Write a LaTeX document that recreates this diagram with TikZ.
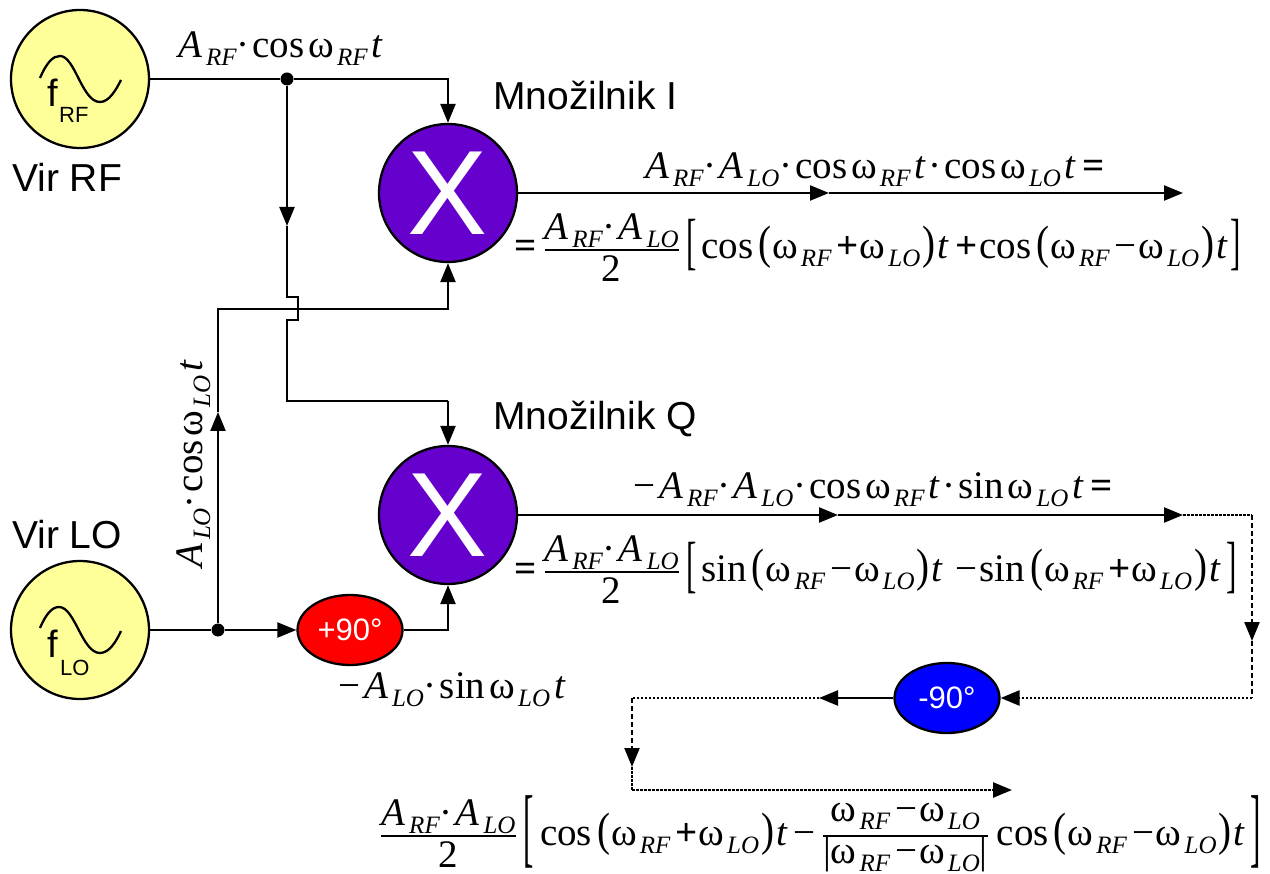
\documentclass[tikz,border=0pt]{standalone}
\usepackage{fontspec}
\usepackage{graphicx}
\usetikzlibrary{arrows.meta,shapes.geometric}
\setmainfont{Liberation Sans}
\newfontfamily\srf{Liberation Serif}
\newcommand\Sb[1]{\raisebox{-8pt}{\fontsize{25}{25}\selectfont\srf\itshape #1}}
\newcommand\Am[1]{{\itshape A}\kern4pt\Sb{#1}}
\newcommand\Om[1]{ω\kern3pt\Sb{#1}}
\newcommand\Tt{{\itshape t}}
\newcommand\Sp{\kern4pt}
\newcommand\Dt{·\kern3pt}
\newcommand\Lp{\kern5pt\scalebox{1}[1.2]{(}\kern1pt}
\newcommand\Rp{\kern2pt\scalebox{1}[1.2]{)}\kern2pt}
\newcommand\Pl{\kern5pt{\fontseries{b}\selectfont +}\kern1pt}
\newcommand\Mn{\kern5pt−\kern2pt}
\newcommand\TP{\kern7pt{\fontseries{b}\selectfont +}\kern2pt}
\newcommand\TM{\kern7pt−\kern2pt}
\newcommand\Lb[2]{\raisebox{#1}{\scalebox{0.8}[#2]{[}}}
\newcommand\Rb[2]{\raisebox{#1}{\scalebox{0.8}[#2]{]}}}
\newcommand\Eq{{\fontseries{b}\selectfont =}}
\newcommand\Fr{\raisebox{3pt}{$\displaystyle{\raisebox{0pt}[\height][4pt]{\Am{RF}\Dt\Am{LO}}\above 1.8pt\raisebox{0pt}[30pt][0pt]{2}}$}}
\tikzset{
  wire/.style={line width=2.3pt,black},
  arr/.style={wire,-{Triangle[length=19pt,width=15pt]}},
  dot/.style={line width=2.6pt,black,dash pattern=on 2.5pt off 1.5pt},
  darr/.style={dot,-{Triangle[length=19pt,width=15pt]}},
  vdash/.style={line width=2.3pt,black,dash pattern=on 5pt off 3pt},
  vdarr/.style={vdash,-{Triangle[length=19pt,width=15pt]}},
  src/.style={circle,draw=black,line width=2.3pt,fill=srcy,minimum size=138pt,inner sep=0pt},
  mix/.style={circle,draw=black,line width=2.3pt,fill=mixcol,minimum size=138pt,inner sep=0pt,text=white,font=\fontsize{120}{120}\selectfont},
  phase/.style={ellipse,draw=black,line width=2.3pt,minimum width=105pt,minimum height=70pt,inner sep=0pt,text=white,font=\fontsize{31}{31}\selectfont},
  junc/.style={circle,fill=black,minimum size=13pt,inner sep=0pt},
  frm/.style={anchor=base west,inner sep=0pt,font=\fontsize{39}{39}\selectfont\srf},
  lab/.style={anchor=base west,inner sep=0pt,font=\fontsize{39}{39}\selectfont},
  fl/.style={anchor=base west,inner sep=0pt,font=\fontsize{38}{38}\selectfont},
  fs/.style={anchor=base west,inner sep=0pt,font=\fontsize{22}{22}\selectfont},
  sine/.style={line width=2.3pt,black}
}
\definecolor{mixcol}{HTML}{6600CC}
\definecolor{srcy}{HTML}{FFFF99}
\begin{document}
\begin{tikzpicture}[x=1pt,y=-1pt]
\useasboundingbox (0,0) rectangle (1270,874);
% blocks
\node[src] (rf) at (80,79) {};
\node[src] (lo) at (80,630) {};
\node[mix] (mi) at (448,193) {X};
\node[mix] (mq) at (448,515) {X};
\node[phase,fill=red] (p90) at (350,630) {+90°};
\node[phase,fill=blue] (m90) at (947,698) {-90°};
\node[junc] (j1) at (287,79) {};
\node[junc] (j2) at (218,630) {};
% free points
\coordinate (a1) at (448,79);
\coordinate (b1) at (287,226);
\coordinate (b2) at (287,297);
\coordinate (b3) at (298,297);
\coordinate (b4) at (298,320);
\coordinate (b5) at (287,320);
\coordinate (b6) at (287,401);
\coordinate (b7) at (448,401);
\coordinate (c1) at (218,412);
\coordinate (c2) at (218,309);
\coordinate (c3) at (448,309);
\coordinate (d1) at (448,630);
\coordinate (e1) at (829,193);
\coordinate (e2) at (1183,193);
\coordinate (f1) at (838,515);
\coordinate (f2) at (1183,515);
\coordinate (f3) at (1252,515);
\coordinate (f4) at (1252,641);
\coordinate (f5) at (1252,698);
\coordinate (g1) at (819,698);
\coordinate (g2) at (632,698);
\coordinate (g3) at (632,767);
\coordinate (g4) at (632,790);
\coordinate (g5) at (1012,790);
% connectors
\draw[wire] (rf.east) -- (j1);
\draw[arr] (j1) -- (a1) -- (mi.north);
\draw[arr] (j1) -- (b1);
\draw[wire] (b1) -- (b2) -- (b3) -- (b4) -- (b5) -- (b6) -- (b7);
\draw[arr] (b7) -- (mq.north);
\draw[wire] (lo.east) -- (j2);
\draw[arr] (j2) -- (p90.west);
\draw[arr] (j2) -- (c1);
\draw[arr] (c1) -- (c2) -- (c3) -- (mi.south);
\draw[arr] (p90.east) -- (d1) -- (mq.south);
\draw[arr] (mi.east) -- (e1);
\draw[arr] (e1) -- (e2);
\draw[arr] (mq.east) -- (f1);
\draw[arr] (f1) -- (f2);
\draw[dot] (f2) -- (f3);
\draw[vdarr] (f3) -- (f4);
\draw[vdash] (f4) -- (f5);
\draw[darr] (f5) -- (m90.east);
\draw[arr] (m90.west) -- (g1);
\draw[dot] (g1) -- (g2);
\draw[vdarr] (g2) -- (g3);
\draw[dot] (g3) -- (g4);
\draw[darr] (g4) -- (g5);
% sine glyphs
\draw[sine] (40,78) .. controls (47,62) and (53,56) .. (60,56) .. controls (75,56) and (82,102) .. (100,102) .. controls (109,102) and (116,90) .. (121,80);
\draw[sine] (40,628) .. controls (46,614) and (52,607) .. (59,607) .. controls (75,607) and (82,653) .. (100,653) .. controls (109,653) and (116,642) .. (121,631);
% text labels
\node[fl] (t1) at (47,107) {f};
\node[fs] (t2) at (59,123) {RF};
\node[fl] (t3) at (47,657) {f};
\node[fs] (t4) at (60,675) {LO};
\node[lab] (t5) at (12,192) {Vir RF};
\node[lab] (t6) at (12,548) {Vir LO};
\node[lab] (t7) at (493,110) {Množilnik I};
\node[lab] (t8) at (493,430) {Množilnik Q};
\node[frm] (f1t) at (178,58) {\Am{RF}\Dt cos\Sp\Om{RF}\Sp\Tt};
\node[frm,rotate=90] (f2t) at (202,568) {\Am{LO}\Dt cos\Sp\Om{LO}\Sp\Tt};
\node[frm] (f3t) at (338,698) {−\kern4pt\Am{LO}\Dt sin\Sp\Om{LO}\Sp\Tt};
\node[frm] (f4t) at (645,179) {\Am{RF}\Dt\Am{LO}\Dt cos\Sp\Om{RF}\Sp\Tt\kern3pt\Dt cos\Sp\Om{LO}\Sp\Tt\kern7pt\Eq};
\node[frm] (f5t) at (514,259) {\Eq\kern7pt\Fr\kern7pt\Lb{-4pt}{1.6}\kern4pt cos\Lp\Om{RF}\Pl\Om{LO}\Rp\Tt\TP cos\Lp\Om{RF}\Mn\Om{LO}\Rp\Tt\kern3pt\Rb{-4pt}{1.6}};
\node[frm] (f6t) at (633,499) {−\kern4pt\Am{RF}\Dt\Am{LO}\Dt cos\Sp\Om{RF}\Sp\Tt\kern3pt\Dt sin\Sp\Om{LO}\Sp\Tt\kern7pt\Eq};
\node[frm] (f7t) at (514,581) {\Eq\kern7pt\Fr\kern7pt\Lb{-4pt}{1.6}\kern4pt sin\Lp\Om{RF}\Mn\Om{LO}\Rp\Tt\kern6pt\TM sin\Lp\Om{RF}\Pl\Om{LO}\Rp\Tt\kern7pt\Rb{-4pt}{1.6}};
\node[frm] (f8t) at (380,845) {\Fr\kern7pt\Lb{-11pt}{2.25}\kern6pt cos\Lp\Om{RF}\Pl\Om{LO}\Rp\Tt\TM\kern4pt\raisebox{3pt}{$\displaystyle{\raisebox{0pt}[\height][8pt]{\Om{RF}\Mn\Om{LO}}\above 1.8pt\raisebox{0pt}[21pt][0pt]{|\Om{RF}\Mn\Om{LO}|}}$}\kern8pt cos\Lp\Om{RF}\Mn\Om{LO}\Rp\Tt\kern6pt\Rb{-11pt}{2.25}};
\end{tikzpicture}
\end{document}
